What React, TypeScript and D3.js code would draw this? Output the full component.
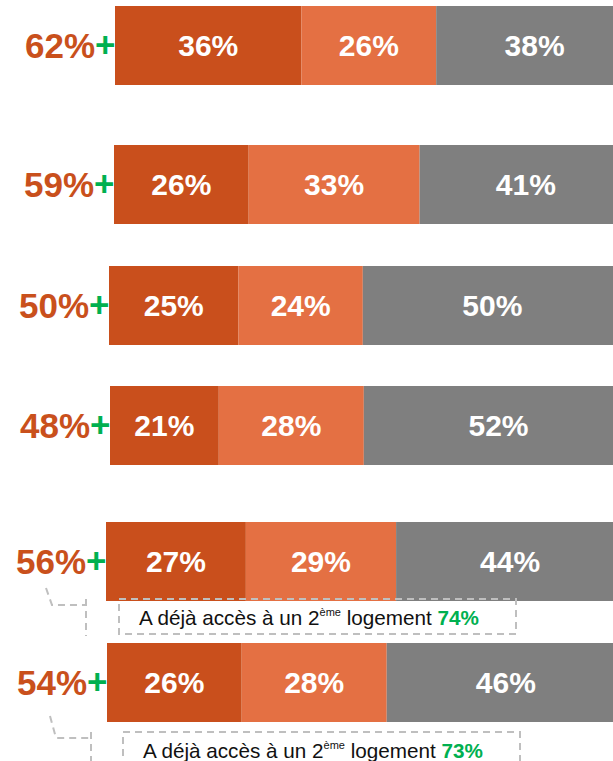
import React from "react";
import * as d3 from "d3";

// ---- data ----
const rows = ["r1", "r2", "r3", "r4", "r5", "r6"];
const totals = [62, 59, 50, 48, 56, 54];
const seg1 = [36, 26, 25, 21, 27, 26];
const seg2 = [26, 33, 24, 28, 29, 28];
const seg3 = [38, 41, 50, 52, 44, 46];
const noteRows = ["r5", "r6"];
const noteValues = [74, 73];

// ---- layout / style ----
const W = 613;
const H = 761;
const BAR_H = 79;
const rowCenters = [45.5, 184.5, 305.5, 425.5, 561.5, 682.5];
const rowStarts = [115, 114, 109, 110, 106, 107];
const noteBoxLeftOff = [13, 16];
const noteBoxTopOff = [-2, 10];
const noteDiagTopOff = [-13, -6];
const noteLblOff = [-60, -57];
const noteVxOff = [-20, -16];
const colors = ["#C94F1C", "#E47043", "#7F7F7F"];
const LABEL_COLOR = "#C9501C";
const GREEN = "#00B050";
const DASH = "#BFBFBF";
const FONT = "'Liberation Sans', Arial, sans-serif";

export default function App() {
  const yScale = d3.scaleOrdinal<string, number>().domain(rows).range(rowCenters);
  const startScale = d3.scaleOrdinal<string, number>().domain(rows).range(rowStarts);
  const x = d3.scaleLinear().domain([0, 100]).range([0, 518]);

  const data = rows.map((r, i) => ({ r, total: totals[i], vals: [seg1[i], seg2[i], seg3[i]] }));
  const stackedSegs = data.map((d) => {
    let acc = 0;
    return d.vals.map((v, k) => {
      const s = { x0: acc, x1: acc + v, v, k };
      acc += v;
      return s;
    });
  });

  const notes = noteRows.map((r, i) => ({ r, v: noteValues[i], cy: yScale(r), st: startScale(r), idx: i }));

  return (
    <svg
      width={W}
      height={H}
      style={{ position: "absolute", left: 0, top: 0, display: "block" }}
      fontFamily={FONT}
    >
      <rect x={0} y={0} width={W} height={H} fill="#fff" />
      {data.map((d, i) => {
        const cy = yScale(d.r);
        const st = startScale(d.r);
        return (
          <g key={d.r}>
            {stackedSegs[i].map((s) => (
              <rect
                key={s.k}
                x={st + x(s.x0)}
                y={cy - BAR_H / 2}
                width={x(s.x1) - x(s.x0)}
                height={BAR_H}
                fill={colors[s.k]}
              />
            ))}
            {stackedSegs[i].map((s) => (
              <text
                key={"t" + s.k}
                x={st + (x(s.x0) + x(s.x1)) / 2}
                y={cy + 10.8}
                textAnchor="middle"
                fill="#fff"
                fontWeight="bold"
                fontSize={30}
              >
                {s.v}%
              </text>
            ))}
            <text
              x={st + 0.5}
              y={cy + 12.6}
              textAnchor="end"
              fontWeight="bold"
              fontSize={35}
              fill={LABEL_COLOR}
            >
              {d.total}%<tspan fill={GREEN} dy={-1}>+</tspan>
            </text>
          </g>
        );
      })}
      {notes.map((n) => {
        const bottom = n.cy + BAR_H / 2;
        const boxLeft = n.st + noteBoxLeftOff[n.idx];
        const boxTop = bottom + noteBoxTopOff[n.idx];
        const boxW = 397;
        const boxH = 35;
        const vx = n.st + noteVxOff[n.idx];
        const diagTop = bottom + noteDiagTopOff[n.idx];
        const lblX = n.st + noteLblOff[n.idx];
        return (
          <g key={n.r} stroke={DASH} strokeWidth={2} fill="none" strokeDasharray="7,5">
            <rect x={boxLeft} y={boxTop} width={boxW} height={boxH} />
            <polyline
              points={`${lblX},${diagTop} ${lblX + 6},${boxTop + 6} ${vx},${boxTop + 6}`}
            />
            <line x1={vx} y1={boxTop} x2={vx} y2={boxTop + 37} />
            <text
              x={boxLeft + 20}
              y={boxTop + 26}
              fill="#111"
              stroke="none"
              fontSize={20.7}
              fontFamily="'Liberation Sans Narrow', 'Liberation Sans', Arial, sans-serif"
            >
              A déjà accès à un 2
              <tspan fontSize={11} dy={-9}>ème</tspan>
              <tspan dy={9}> logement </tspan>
              <tspan fill={GREEN} fontWeight="bold">{n.v}%</tspan>
            </text>
          </g>
        );
      })}
    </svg>
  );
}
